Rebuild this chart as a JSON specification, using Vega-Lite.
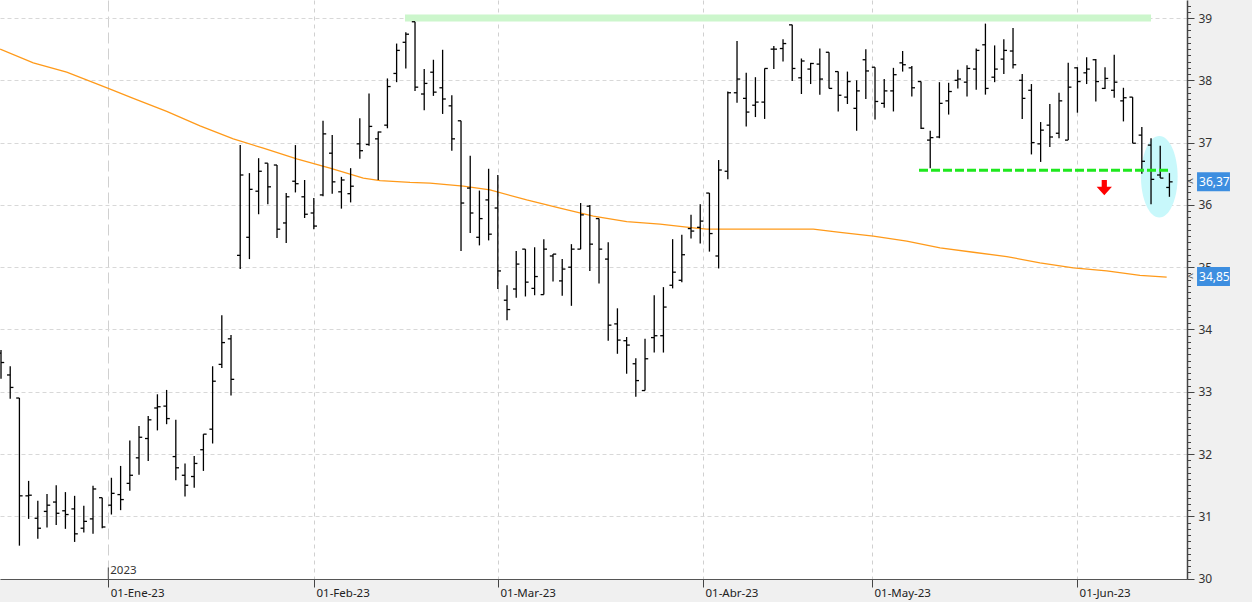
{
  "$schema": "https://vega.github.io/schema/vega-lite/v6.json",
  "width": 1187,
  "height": 579,
  "autosize": {"type": "none"},
  "padding": {"left": 0, "top": 0, "right": 65, "bottom": 23},
  "background": "#f0f0f0",
  "view": {"fill": "#ffffff", "stroke": null},
  "config": {"font": "Noto Sans"},
  "datasets": {
    "ohlc": [
      {"i":0,"o":33.62,"h":33.67,"l":33.21,"c":33.47},
      {"i":1,"o":33.27,"h":33.41,"l":32.89,"c":33.07},
      {"i":2,"o":32.90,"h":32.90,"l":30.53,"c":31.33},
      {"i":3,"o":31.33,"h":31.57,"l":30.96,"c":31.34},
      {"i":4,"o":30.97,"h":31.25,"l":30.64,"c":30.81},
      {"i":5,"o":31.08,"h":31.36,"l":30.82,"c":31.18},
      {"i":6,"o":31.23,"h":31.50,"l":30.86,"c":31.05},
      {"i":7,"o":31.09,"h":31.39,"l":30.80,"c":31.03},
      {"i":8,"o":31.12,"h":31.33,"l":30.59,"c":30.72},
      {"i":9,"o":30.81,"h":31.17,"l":30.74,"c":30.92},
      {"i":10,"o":30.96,"h":31.49,"l":30.72,"c":31.44},
      {"i":11,"o":31.30,"h":31.30,"l":30.81,"c":30.83},
      {"i":12,"o":31.18,"h":31.62,"l":31.03,"c":31.37},
      {"i":13,"o":31.35,"h":31.81,"l":31.10,"c":31.27},
      {"i":14,"o":31.53,"h":32.22,"l":31.41,"c":31.66},
      {"i":15,"o":31.94,"h":32.45,"l":31.67,"c":32.27},
      {"i":16,"o":32.25,"h":32.61,"l":31.89,"c":32.55},
      {"i":17,"o":32.74,"h":32.96,"l":32.38,"c":32.76},
      {"i":18,"o":32.77,"h":33.03,"l":32.48,"c":32.57},
      {"i":19,"o":31.96,"h":32.55,"l":31.58,"c":31.78},
      {"i":20,"o":31.66,"h":31.85,"l":31.32,"c":31.50},
      {"i":21,"o":31.64,"h":31.97,"l":31.46,"c":31.85},
      {"i":22,"o":32.07,"h":32.32,"l":31.73,"c":32.32},
      {"i":23,"o":32.40,"h":33.41,"l":32.17,"c":33.17},
      {"i":24,"o":33.44,"h":34.23,"l":33.38,"c":33.79},
      {"i":25,"o":33.85,"h":33.91,"l":32.94,"c":33.20},
      {"i":26,"o":35.19,"h":36.96,"l":34.97,"c":36.48},
      {"i":27,"o":35.48,"h":36.51,"l":35.13,"c":36.25},
      {"i":28,"o":36.22,"h":36.75,"l":35.85,"c":36.54},
      {"i":29,"o":36.67,"h":36.67,"l":36.01,"c":36.29},
      {"i":30,"o":36.64,"h":36.64,"l":35.47,"c":35.61},
      {"i":31,"o":35.71,"h":36.19,"l":35.39,"c":36.13},
      {"i":32,"o":36.38,"h":36.96,"l":36.20,"c":36.34},
      {"i":33,"o":36.13,"h":36.40,"l":35.79,"c":35.85},
      {"i":34,"o":35.87,"h":36.11,"l":35.61,"c":35.66},
      {"i":35,"o":36.16,"h":37.35,"l":36.14,"c":37.14},
      {"i":36,"o":36.83,"h":37.12,"l":36.18,"c":36.37},
      {"i":37,"o":36.21,"h":36.45,"l":35.94,"c":36.40},
      {"i":38,"o":36.18,"h":36.59,"l":36.04,"c":36.30},
      {"i":39,"o":36.98,"h":37.39,"l":36.74,"c":36.87},
      {"i":40,"o":36.97,"h":37.79,"l":36.95,"c":37.26},
      {"i":41,"o":37.06,"h":37.18,"l":36.40,"c":37.17},
      {"i":42,"o":37.28,"h":38.03,"l":37.23,"c":37.90},
      {"i":43,"o":38.11,"h":38.59,"l":37.97,"c":38.48},
      {"i":44,"o":38.61,"h":38.77,"l":38.19,"c":38.74},
      {"i":45,"o":38.94,"h":38.94,"l":37.83,"c":37.89},
      {"i":46,"o":37.78,"h":38.18,"l":37.52,"c":37.95},
      {"i":47,"o":38.13,"h":38.33,"l":37.75,"c":37.81},
      {"i":48,"o":37.88,"h":38.49,"l":37.46,"c":37.70},
      {"i":49,"o":37.59,"h":37.76,"l":36.87,"c":37.06},
      {"i":50,"o":37.35,"h":37.35,"l":35.26,"c":36.03},
      {"i":51,"o":36.27,"h":36.79,"l":35.55,"c":35.87},
      {"i":52,"o":35.48,"h":36.23,"l":35.35,"c":35.78},
      {"i":53,"o":36.08,"h":36.58,"l":35.43,"c":35.53},
      {"i":54,"o":35.95,"h":36.48,"l":34.65,"c":34.94},
      {"i":55,"o":34.47,"h":34.71,"l":34.15,"c":34.32},
      {"i":56,"o":34.65,"h":35.26,"l":34.51,"c":35.05},
      {"i":57,"o":35.29,"h":35.29,"l":34.53,"c":34.76},
      {"i":58,"o":34.66,"h":35.32,"l":34.55,"c":34.85},
      {"i":59,"o":34.56,"h":35.45,"l":34.56,"c":35.29},
      {"i":60,"o":35.18,"h":35.21,"l":34.77,"c":35.21},
      {"i":61,"o":34.78,"h":35.13,"l":34.54,"c":34.97},
      {"i":62,"o":35.00,"h":35.37,"l":34.38,"c":35.29},
      {"i":63,"o":35.29,"h":36.03,"l":35.29,"c":35.84},
      {"i":64,"o":35.98,"h":36.00,"l":34.94,"c":35.37},
      {"i":65,"o":35.78,"h":35.78,"l":34.74,"c":35.29},
      {"i":66,"o":35.13,"h":35.40,"l":33.82,"c":34.07},
      {"i":67,"o":34.09,"h":34.34,"l":33.61,"c":33.83},
      {"i":68,"o":33.82,"h":33.88,"l":33.29,"c":33.75},
      {"i":69,"o":33.45,"h":33.54,"l":32.92,"c":33.18},
      {"i":70,"o":33.02,"h":33.85,"l":33.02,"c":33.53},
      {"i":71,"o":33.87,"h":34.55,"l":33.63,"c":33.90},
      {"i":72,"o":33.90,"h":34.68,"l":33.63,"c":34.36},
      {"i":73,"o":34.71,"h":35.45,"l":34.66,"c":34.92},
      {"i":74,"o":34.79,"h":35.52,"l":34.76,"c":35.20},
      {"i":75,"o":35.62,"h":35.84,"l":35.46,"c":35.58},
      {"i":76,"o":35.64,"h":36.01,"l":35.38,"c":35.74},
      {"i":77,"o":36.19,"h":36.19,"l":35.25,"c":35.54},
      {"i":78,"o":35.18,"h":36.72,"l":34.98,"c":36.56},
      {"i":79,"o":36.54,"h":37.82,"l":36.41,"c":37.80},
      {"i":80,"o":37.80,"h":38.63,"l":37.64,"c":38.02},
      {"i":81,"o":37.71,"h":38.12,"l":37.26,"c":37.49},
      {"i":82,"o":37.60,"h":38.05,"l":37.41,"c":37.65},
      {"i":83,"o":37.65,"h":38.19,"l":37.38,"c":38.19},
      {"i":84,"o":38.50,"h":38.55,"l":38.18,"c":38.50},
      {"i":85,"o":38.51,"h":38.66,"l":38.30,"c":38.59},
      {"i":86,"o":38.89,"h":38.89,"l":37.99,"c":38.19},
      {"i":87,"o":38.04,"h":38.35,"l":37.78,"c":38.31},
      {"i":88,"o":38.18,"h":38.28,"l":37.94,"c":38.27},
      {"i":89,"o":38.26,"h":38.51,"l":37.77,"c":38.02},
      {"i":90,"o":38.45,"h":38.45,"l":37.87,"c":37.87},
      {"i":91,"o":38.14,"h":38.14,"l":37.50,"c":37.76},
      {"i":92,"o":37.73,"h":38.14,"l":37.62,"c":37.98},
      {"i":93,"o":37.55,"h":38.00,"l":37.19,"c":37.83},
      {"i":94,"o":38.33,"h":38.50,"l":37.70,"c":38.15},
      {"i":95,"o":38.21,"h":38.21,"l":37.37,"c":37.66},
      {"i":96,"o":37.63,"h":38.02,"l":37.56,"c":37.83},
      {"i":97,"o":37.83,"h":38.20,"l":37.50,"c":38.09},
      {"i":98,"o":38.28,"h":38.47,"l":38.14,"c":38.25},
      {"i":99,"o":38.20,"h":38.23,"l":37.74,"c":37.88},
      {"i":100,"o":37.98,"h":37.98,"l":37.22,"c":37.23},
      {"i":101,"o":37.04,"h":37.19,"l":36.59,"c":37.08},
      {"i":102,"o":37.09,"h":37.97,"l":37.07,"c":37.63},
      {"i":103,"o":37.67,"h":37.96,"l":37.45,"c":37.82},
      {"i":104,"o":38.00,"h":38.17,"l":37.87,"c":38.02},
      {"i":105,"o":37.97,"h":38.24,"l":37.74,"c":38.19},
      {"i":106,"o":38.18,"h":38.51,"l":37.85,"c":38.48},
      {"i":107,"o":38.57,"h":38.91,"l":37.77,"c":37.87},
      {"i":108,"o":38.05,"h":38.56,"l":37.97,"c":38.18},
      {"i":109,"o":38.34,"h":38.66,"l":38.10,"c":38.48},
      {"i":110,"o":38.47,"h":38.84,"l":38.19,"c":38.25},
      {"i":111,"o":38.00,"h":38.10,"l":37.38,"c":37.71},
      {"i":112,"o":37.84,"h":37.94,"l":36.81,"c":37.00},
      {"i":113,"o":36.98,"h":37.33,"l":36.69,"c":37.20},
      {"i":114,"o":37.28,"h":37.62,"l":36.93,"c":37.09},
      {"i":115,"o":37.15,"h":37.80,"l":37.07,"c":37.67},
      {"i":116,"o":37.04,"h":38.28,"l":37.04,"c":37.89},
      {"i":117,"o":38.20,"h":38.21,"l":37.48,"c":37.98},
      {"i":118,"o":38.12,"h":38.37,"l":37.94,"c":38.18},
      {"i":119,"o":38.33,"h":38.34,"l":37.66,"c":37.98},
      {"i":120,"o":37.87,"h":38.21,"l":37.86,"c":38.03},
      {"i":121,"o":37.84,"h":38.41,"l":37.72,"c":37.97},
      {"i":122,"o":37.67,"h":37.88,"l":37.34,"c":37.72},
      {"i":123,"o":37.73,"h":37.73,"l":36.99,"c":36.99},
      {"i":124,"o":37.12,"h":37.25,"l":36.50,"c":36.70},
      {"i":125,"o":36.96,"h":37.07,"l":36.01,"c":36.41},
      {"i":126,"o":36.48,"h":36.95,"l":36.43,"c":36.43},
      {"i":127,"o":36.28,"h":36.51,"l":36.13,"c":36.37}
    ],
    "ma": [
      {"i":-0.1,"v":38.50},{"i":3.51,"v":38.28},{"i":7.14,"v":38.13},{"i":11.66,"v":37.87},
      {"i":14.38,"v":37.71},{"i":18.01,"v":37.50},{"i":21.63,"v":37.27},{"i":25.25,"v":37.06},
      {"i":28.51,"v":36.91},{"i":32.14,"v":36.74},{"i":35.76,"v":36.59},{"i":39.38,"v":36.43},
      {"i":41.2,"v":36.39},{"i":44.46,"v":36.36},{"i":46.63,"v":36.35},{"i":50.25,"v":36.30},
      {"i":53.15,"v":36.24},{"i":57.14,"v":36.08},{"i":60.76,"v":35.95},{"i":64.38,"v":35.82},
      {"i":68.01,"v":35.73},{"i":71.63,"v":35.69},{"i":75.25,"v":35.63},{"i":76.71,"v":35.61},
      {"i":88.29,"v":35.61},{"i":91.2,"v":35.56},{"i":94.82,"v":35.50},{"i":98.45,"v":35.42},
      {"i":102.07,"v":35.31},{"i":105.68,"v":35.24},{"i":109.32,"v":35.17},{"i":112.93,"v":35.07},
      {"i":116.55,"v":34.99},{"i":120.18,"v":34.94},{"i":123.8,"v":34.87},{"i":126.7,"v":34.84}
    ],
    "resistance": [{"from":43.91,"to":125.0,"level":39.0}],
    "support": [{"from":99.78,"to":126.85,"level":36.556}],
    "highlight": [{"i":125.9,"v":36.451}],
    "signal": [{"i":119.92,"v":36.276}],
    "last": [{"v":36.37,"label":"36,37"},{"v":34.85,"label":"34,85"}]
  },
  "layer": [
    {
      "data": {"name": "highlight"},
      "mark": {"type": "point", "shape": "M0,-1A0.449,1 0 1,1 0,1A0.449,1 0 1,1 0,-1Z", "size": 6660, "filled": true, "color": "#c8f8fb", "opacity": 1, "strokeWidth": 0},
      "encoding": {
        "x": {"field": "i", "type": "quantitative", "scale": {"domain": [-0.11, 128.91], "nice": false, "zero": false},
          "axis": {"title": null, "values": [11.66, 34.02, 54.02, 76.3, 94.67, 116.96], "tickCount": 100,
            "labelExpr": "datum.value < 20 ? '01-Ene-23' : datum.value < 40 ? '01-Feb-23' : datum.value < 60 ? '01-Mar-23' : datum.value < 85 ? '01-Abr-23' : datum.value < 100 ? '01-May-23' : '01-Jun-23'",
            "labelAlign": "left", "labelBaseline": "middle", "labelOffset": 2, "labelPadding": 6, "labelFontSize": 11.5, "labelColor": "#222", "labelFlush": false, "labelOverlap": false,
            "tickSize": 8, "tickColor": "#444", "domainColor": "#555", "domainWidth": 1.2,
            "grid": true, "gridColor": "#d0d0d0", "gridDash": {"condition": {"test": "datum.value < 20", "value": [11, 5]}, "value": [4, 4]}}},
        "y": {"field": "v", "type": "quantitative", "scale": {"domain": [29.995, 39.289], "nice": false, "zero": false},
          "axis": {"title": null, "orient": "right", "tickCount": 1000,
            "values": [30,30.1,30.2,30.3,30.4,30.5,30.6,30.7,30.8,30.9,31,31.1,31.2,31.3,31.4,31.5,31.6,31.7,31.8,31.9,32,32.1,32.2,32.3,32.4,32.5,32.6,32.7,32.8,32.9,33,33.1,33.2,33.3,33.4,33.5,33.6,33.7,33.8,33.9,34,34.1,34.2,34.3,34.4,34.5,34.6,34.7,34.8,34.9,35,35.1,35.2,35.3,35.4,35.5,35.6,35.7,35.8,35.9,36,36.1,36.2,36.3,36.4,36.5,36.6,36.7,36.8,36.9,37,37.1,37.2,37.3,37.4,37.5,37.6,37.7,37.8,37.9,38,38.1,38.2,38.3,38.4,38.5,38.6,38.7,38.8,38.9,39,39.1,39.2],
            "labelExpr": "abs(datum.value - round(datum.value)) < 0.01 ? format(datum.value, 'd') : ''",
            "tickSize": {"condition": {"test": "abs(datum.value - round(datum.value)) < 0.01", "value": 7}, "value": 3.5},
            "gridOpacity": {"condition": {"test": "abs(datum.value - round(datum.value)) < 0.01", "value": 1}, "value": 0},
            "grid": true, "gridColor": "#d8d8d8", "gridDash": [4, 3],
            "labelPadding": 4, "labelAlign": "left", "labelBaseline": "middle", "labelFontSize": 12, "labelColor": "#333",
            "labelOverlap": false, "labelFlush": false,
            "domainColor": "#444", "domainWidth": 1.5, "tickColor": "#444", "ticks": true}}
      }
    },
    {
      "data": {"name": "resistance"},
      "mark": {"type": "rule", "color": "#ccf6cc", "strokeWidth": 7},
      "encoding": {
        "x": {"field": "from", "type": "quantitative", "scale": {"domain": [-0.11, 128.91], "nice": false, "zero": false}},
        "x2": {"field": "to"},
        "y": {"field": "level", "type": "quantitative", "scale": {"domain": [29.995, 39.289], "nice": false, "zero": false}}
      }
    },
    {
      "data": {"name": "ma"},
      "mark": {"type": "line", "color": "#ff9a1a", "strokeWidth": 1.3},
      "encoding": {
        "x": {"field": "i", "type": "quantitative", "scale": {"domain": [-0.11, 128.91], "nice": false, "zero": false}},
        "y": {"field": "v", "type": "quantitative", "scale": {"domain": [29.995, 39.289], "nice": false, "zero": false}}
      }
    },
    {
      "data": {"name": "ohlc"},
      "mark": {"type": "rule", "color": "#000000", "strokeWidth": 1.3},
      "encoding": {
        "x": {"field": "i", "type": "quantitative", "scale": {"domain": [-0.11, 128.91], "nice": false, "zero": false}},
        "y": {"field": "l", "type": "quantitative", "scale": {"domain": [29.995, 39.289], "nice": false, "zero": false}},
        "y2": {"field": "h"}
      }
    },
    {
      "data": {"name": "ohlc"},
      "mark": {"type": "rule", "color": "#000000", "strokeWidth": 1.3, "xOffset": -3.2, "x2Offset": 0},
      "encoding": {
        "x": {"field": "i", "type": "quantitative", "scale": {"domain": [-0.11, 128.91], "nice": false, "zero": false}},
        "x2": {"field": "i"},
        "y": {"field": "o", "type": "quantitative", "scale": {"domain": [29.995, 39.289], "nice": false, "zero": false}}
      }
    },
    {
      "data": {"name": "ohlc"},
      "mark": {"type": "rule", "color": "#000000", "strokeWidth": 1.3, "xOffset": 0, "x2Offset": 3.2},
      "encoding": {
        "x": {"field": "i", "type": "quantitative", "scale": {"domain": [-0.11, 128.91], "nice": false, "zero": false}},
        "x2": {"field": "i"},
        "y": {"field": "c", "type": "quantitative", "scale": {"domain": [29.995, 39.289], "nice": false, "zero": false}}
      }
    },
    {
      "data": {"name": "support"},
      "mark": {"type": "rule", "color": "#1ee81e", "strokeWidth": 3, "strokeDash": [9, 3]},
      "encoding": {
        "x": {"field": "from", "type": "quantitative", "scale": {"domain": [-0.11, 128.91], "nice": false, "zero": false}},
        "x2": {"field": "to"},
        "y": {"field": "level", "type": "quantitative", "scale": {"domain": [29.995, 39.289], "nice": false, "zero": false}}
      }
    },
    {
      "data": {"name": "signal"},
      "mark": {"type": "point", "shape": "M-0.34,-1L0.34,-1L0.34,-0.13L1,-0.13L0,1L-1,-0.13L-0.34,-0.13Z", "size": 234, "filled": true, "color": "#ff0000", "opacity": 1, "strokeWidth": 0},
      "encoding": {
        "x": {"field": "i", "type": "quantitative", "scale": {"domain": [-0.11, 128.91], "nice": false, "zero": false}},
        "y": {"field": "v", "type": "quantitative", "scale": {"domain": [29.995, 39.289], "nice": false, "zero": false}}
      }
    },
    {
      "data": {"values": [{"year": "2023"}]},
      "mark": {"type": "rule", "color": "#444", "strokeWidth": 1},
      "encoding": {
        "x": {"datum": 11.66, "type": "quantitative", "scale": {"domain": [-0.11, 128.91], "nice": false, "zero": false}},
        "y": {"datum": 30.18, "type": "quantitative", "scale": {"domain": [29.995, 39.289], "nice": false, "zero": false}},
        "y2": {"datum": 29.995}
      }
    },
    {
      "data": {"values": [{"year": "2023"}]},
      "mark": {"type": "text", "align": "left", "baseline": "middle", "dx": 2, "fontSize": 11.5, "color": "#333"},
      "encoding": {
        "x": {"datum": 11.66, "type": "quantitative", "scale": {"domain": [-0.11, 128.91], "nice": false, "zero": false}},
        "y": {"datum": 30.12, "type": "quantitative", "scale": {"domain": [29.995, 39.289], "nice": false, "zero": false}},
        "text": {"field": "year"}
      }
    },
    {
      "data": {"name": "last"},
      "mark": {"type": "rect", "color": "#3d8ee0", "yOffset": -9.5, "y2Offset": 9.5},
      "encoding": {
        "x": {"datum": 130.0, "type": "quantitative", "scale": {"domain": [-0.11, 128.91], "nice": false, "zero": false}},
        "x2": {"datum": 133.58},
        "y": {"field": "v", "type": "quantitative", "scale": {"domain": [29.995, 39.289], "nice": false, "zero": false}},
        "y2": {"field": "v"}
      }
    },
    {
      "data": {"name": "last"},
      "mark": {"type": "text", "align": "left", "baseline": "middle", "fontSize": 12, "color": "#ffffff"},
      "encoding": {
        "x": {"datum": 130.22, "type": "quantitative", "scale": {"domain": [-0.11, 128.91], "nice": false, "zero": false}},
        "y": {"field": "v", "type": "quantitative", "scale": {"domain": [29.995, 39.289], "nice": false, "zero": false}},
        "text": {"field": "label"}
      }
    },
    {
      "data": {"name": "last"},
      "mark": {"type": "text", "align": "center", "baseline": "middle", "fontSize": 11, "color": "#555", "text": "<"},
      "encoding": {
        "x": {"datum": 129.29, "type": "quantitative", "scale": {"domain": [-0.11, 128.91], "nice": false, "zero": false}},
        "y": {"field": "v", "type": "quantitative", "scale": {"domain": [29.995, 39.289], "nice": false, "zero": false}}
      }
    }
  ]
}
